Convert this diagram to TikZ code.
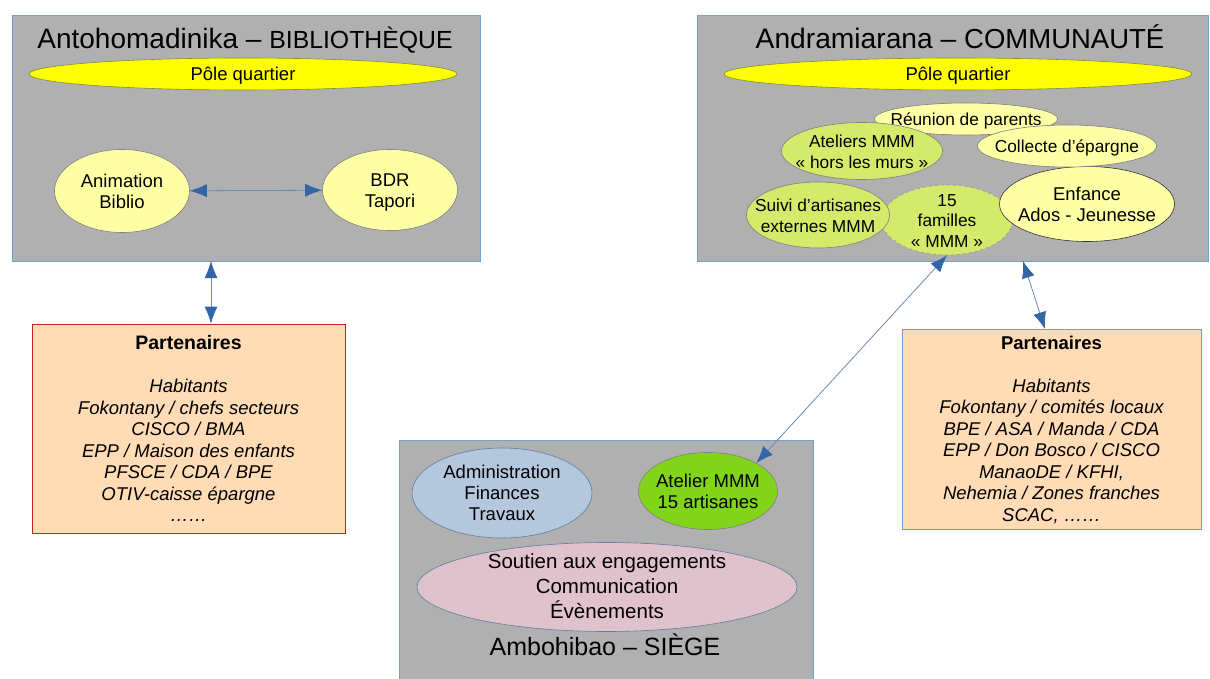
\documentclass[tikz,border=0pt]{standalone}
\usepackage{fontspec}
\setmainfont{Liberation Sans}
\usepackage{tikz}
\usetikzlibrary{shapes.geometric,arrows.meta}
\definecolor{boxgray}{RGB}{176,176,176}
\definecolor{boxline}{RGB}{114,159,207}
\definecolor{polefill}{RGB}{255,255,0}
\definecolor{poleline}{RGB}{130,140,60}
\definecolor{paleyellow}{RGB}{255,255,166}
\definecolor{limefill}{RGB}{212,234,107}
\definecolor{greenfill}{RGB}{129,212,26}
\definecolor{paleblue}{RGB}{180,199,220}
\definecolor{rosefill}{RGB}{224,194,205}
\definecolor{peach}{RGB}{255,219,182}
\definecolor{brick}{RGB}{201,33,30}
\definecolor{arrowblue}{RGB}{52,101,164}
% text of an oval, kept out of the oval's size
\newcommand{\ovaltext}[1]{\makebox[0pt]{\begin{tabular}[c]{@{}c@{}}#1\end{tabular}}}

\tikzset{
  site/.style={draw=boxline,fill=boxgray,line width=0.8pt,inner sep=0pt},
  bubble/.style={ellipse,draw=black!50,line width=0.6pt,inner sep=0pt,
    text height=14pt,text depth=0pt,font=\fontsize{18.5}{21}\selectfont},
  small/.style={font=\fontsize{17.3}{20.5}\selectfont},
  pole/.style={bubble,draw=poleline,fill=polefill},
  partbox/.style={draw,fill=peach,line width=0.8pt,align=center,inner sep=0pt,
    font=\fontsize{18.5}{21.5}\selectfont},
  link/.style={draw=arrowblue!75,line width=0.8pt,
    {Latex[length=17pt,width=13pt,color=arrowblue]}-{Latex[length=17pt,width=13pt,color=arrowblue]}}
}

\begin{document}
\begin{tikzpicture}[x=1pt,y=-1pt]
    \useasboundingbox (0,0) rectangle (1210,679);
    % the three sites
    \node[site,minimum width=468pt,minimum height=246pt] (biblio) at (246,138) {};
    \node[site,minimum width=511pt,minimum height=246pt] (commu) at (952.5,138) {};
    \node[site,minimum width=414pt,minimum height=242pt] (siege) at (606,561) {};
    \node[anchor=base,font=\fontsize{28}{32}\selectfont] (bibtitle) at (245,49)
        {Antohomadinika – {\fontsize{24.8}{32}\selectfont BIBLIOTHÈQUE}};
    \node[anchor=base,font=\fontsize{28.2}{32}\selectfont] (comtitle) at (960,49)
        {Andramiarana – {\fontsize{27.5}{32}\selectfont COMMUNAUTÉ}};
    \node[anchor=base,font=\fontsize{25}{30}\selectfont] (siegetitle) at (605,655)
        {Ambohibao – SIÈGE};

    % bibliotheque
    \node[pole,minimum width=428pt,minimum height=32pt] (bibpole) at (243,74) {\ovaltext{Pôle quartier}};
    \node[bubble,fill=paleyellow,minimum width=135pt,minimum height=83pt] (anim) at (122,191) {\ovaltext{Animation\\Biblio}};
    \node[bubble,fill=paleyellow,minimum width=135pt,minimum height=81pt] (bdr) at (390,190) {\ovaltext{BDR\\Tapori}};

    % communaute
    \node[pole,minimum width=468pt,minimum height=32pt] (compole) at (958,74) {\ovaltext{Pôle quartier}};
    \node[bubble,small,fill=limefill,dashed,draw=black!40,minimum width=131pt,minimum height=70pt] (famille) at (947,220) {\ovaltext{15\\familles\\« MMM »}};
    \node[bubble,small,fill=limefill,minimum width=143pt,minimum height=66pt] (suivi) at (818,215) {\ovaltext{Suivi d’artisanes\\externes MMM}};
    \node[bubble,fill=paleyellow,draw=black!80,minimum width=175pt,minimum height=75pt] (enfance) at (1087,204) {\ovaltext{Enfance\\Ados - Jeunesse}};
    \node[bubble,small,fill=paleyellow,minimum width=183pt,minimum height=32pt] (reunion) at (966,119) {\ovaltext{Réunion de parents}};
    \node[bubble,small,fill=limefill,minimum width=161pt,minimum height=57pt] (ateliers) at (862,151) {\ovaltext{Ateliers MMM\\« hors les murs »}};
    \node[bubble,small,fill=paleyellow,minimum width=179pt,minimum height=42pt] (collecte) at (1067,146) {\ovaltext{Collecte d’épargne}};

    % siege
    \node[bubble,fill=paleblue,draw=boxline!80!black,minimum width=180pt,minimum height=90pt] (admin) at (502,493) {\ovaltext{Administration\\Finances\\Travaux}};
    \node[bubble,fill=greenfill,draw=black!50,minimum width=139pt,minimum height=77pt] (atelier) at (708,491) {\ovaltext{Atelier MMM\\15 artisanes}};
    \node[bubble,fill=rosefill,draw=boxline!80!black,font=\fontsize{20.5}{24.5}\selectfont,minimum width=380pt,minimum height=89pt] (soutien) at (607,587) {\ovaltext{Soutien aux engagements\\Communication\\Évènements}};

    % partenaires
    \node[partbox,draw=brick,minimum width=313pt,minimum height=209pt] (partleft) at (188.5,428.5)
        {{\bfseries\fontsize{19.5}{21.5}\selectfont Partenaires}\\[21.5pt]\itshape Habitants\\\itshape Fokontany / chefs secteurs\\\itshape CISCO / BMA\\\itshape EPP / Maison des enfants\\\itshape PFSCE / CDA / BPE\\\itshape OTIV-caisse épargne\\\itshape ……};
    \node[partbox,draw=boxline,minimum width=299pt,minimum height=200pt] (partright) at (1051.5,429.5)
        {{\bfseries Partenaires}\\[21.5pt]\itshape Habitants\\\itshape Fokontany / comités locaux\\\itshape BPE / ASA / Manda / CDA\\\itshape EPP / Don Bosco / CISCO\\\itshape ManaoDE / KFHI,\\\itshape Nehemia / Zones franches\\\itshape SCAC, ……};

    % liens
    \coordinate (bibout) at (211,261);
    \coordinate (comout) at (1023,261);
    \draw[link] (anim) -- (bdr);
    \draw[link] (bibout) -- (bibout |- partleft.north);
    \draw[link] (famille.south) -- (atelier.30);
    \draw[link] (comout) -- ([xshift=-6.5pt]partright.north);
\end{tikzpicture}
\end{document}
